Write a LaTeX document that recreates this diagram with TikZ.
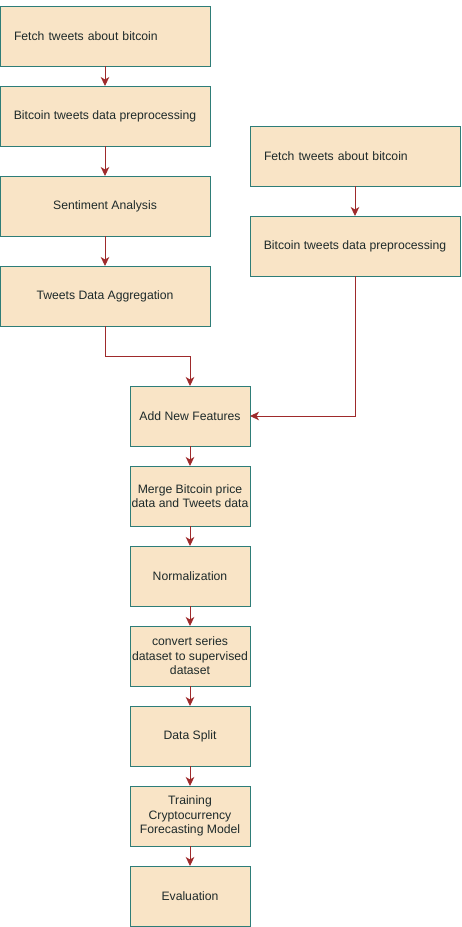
\documentclass[tikz,border=0pt]{standalone}
\usepackage{fontspec}
\setmainfont{Liberation Sans}
\usepackage{xcolor}
\usetikzlibrary{positioning, arrows.meta}

\definecolor{boxfill}{HTML}{F9E4C6}
\definecolor{boxline}{HTML}{2E7D78}
\definecolor{arrowred}{HTML}{9E2A2B}
\definecolor{txt}{HTML}{1E2A2A}

\begin{document}
\begin{tikzpicture}[x=1pt, y=-1pt,
  caja/.style={draw=boxline, fill=boxfill, line width=0.9pt, align=center,
               text=txt, font=\fontsize{12.2}{14.6}\selectfont, inner xsep=0.5pt,
               inner ysep=1pt, minimum width=210pt, minimum height=60pt, outer sep=0pt},
  cajal/.style={caja, align=left, text width=182pt},
  cajac/.style={caja, minimum width=120pt},
  fl/.style={-{Stealth[length=9pt, width=8.5pt, inset=2.5pt]}, arrowred, line width=0.9pt},
  node distance=20pt]
\useasboundingbox (0,0) rectangle (461,927);
% left column
\node[cajal] (fetch) at (105,36) {Fetch tweets about bitcoin};
\node[caja, below=of fetch] (prep) {Bitcoin tweets data preprocessing};
\node[caja, below=30pt of prep] (sent) {Sentiment Analysis};
\node[caja, below=30pt of sent] (agg) {Tweets Data Aggregation};
% right column
\node[cajal] (fetchb) at (355,156) {Fetch tweets about bitcoin};
\node[caja, below=30pt of fetchb] (prepb) {Bitcoin tweets data preprocessing};
% centre column
\node[cajac] (feat) at (190,416) {Add New Features};
\node[cajac, below=of feat] (merge) {Merge Bitcoin price\\data and Tweets data};
\node[cajac, below=of merge] (norm) {Normalization};
\node[cajac, below=of norm] (conv) {convert series\\dataset to supervised\\dataset};
\node[cajac, below=of conv] (split) {Data Split};
\node[cajac, below=of split] (train) {Training\\Cryptocurrency\\Forecasting Model};
\node[cajac, below=of train] (eval) {Evaluation};
\draw[fl] (fetch) -- (prep);
\draw[fl] (prep) -- (sent);
\draw[fl] (sent) -- (agg);
\draw[fl] (agg.south) -- ++(0,30) -| (feat.north);
\draw[fl] (fetchb) -- (prepb);
\draw[fl] (prepb.south) |- (feat.east);
\draw[fl] (feat) -- (merge);
\draw[fl] (merge) -- (norm);
\draw[fl] (norm) -- (conv);
\draw[fl] (conv) -- (split);
\draw[fl] (split) -- (train);
\draw[fl] (train) -- (eval);
\end{tikzpicture}
\end{document}
